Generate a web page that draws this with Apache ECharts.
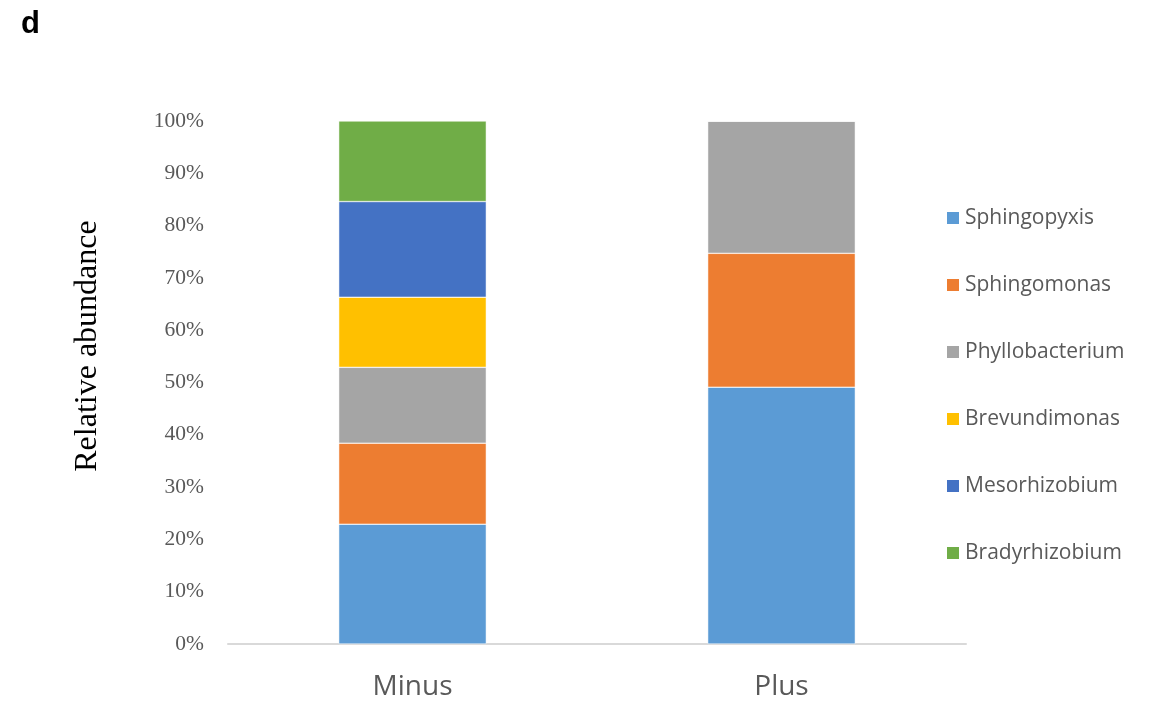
<!DOCTYPE html>
<html>
<head>
<meta charset="utf-8">
<script src="https://cdn.jsdelivr.net/npm/echarts@6/dist/echarts.min.js"></script>
<style>html,body{margin:0;padding:0;background:#fff}#c{width:1153px;height:702px}</style>
</head>
<body>
<div id="c"></div>
<script>
const categories = ['Minus', 'Plus'];
const seriesNames = ['Sphingopyxis', 'Sphingomonas', 'Phyllobacterium', 'Brevundimonas', 'Mesorhizobium', 'Bradyrhizobium'];
const sphingopyxis = [22.9, 49.1];
const sphingomonas = [15.5, 25.6];
const phyllobacterium = [14.5, 25.3];
const brevundimonas = [13.4, 0];
const mesorhizobium = [18.3, 0];
const bradyrhizobium = [15.4, 0];
const yTicks = [0, 10, 20, 30, 40, 50, 60, 70, 80, 90, 100];
const colors = ['#5B9BD5', '#ED7D31', '#A5A5A5', '#FFC000', '#4472C4', '#70AD47'];
const values = [sphingopyxis, sphingomonas, phyllobacterium, brevundimonas, mesorhizobium, bradyrhizobium];

const chart = echarts.init(document.getElementById('c'), null, {renderer: 'canvas'});
chart.setOption({
  animation: false,
  backgroundColor: '#fff',
  title: {
    text: 'd', left: 16, top: 4,
    textStyle: {fontFamily: 'Liberation Sans', fontWeight: 'bold', fontSize: 31, color: '#000'}
  },
  graphic: [{
    type: 'text', x: 88, y: 346, rotation: Math.PI / 2,
    style: {
      text: 'Relative abundance', fontFamily: 'Liberation Serif', fontSize: 32,
      fill: '#000', align: 'center', verticalAlign: 'middle'
    }
  }],
  grid: {left: 228, right: 187, top: 121, bottom: 58},
  legend: {
    orient: 'vertical', left: 940, top: 202,
    itemWidth: 14, itemHeight: 14, itemGap: 45,
    icon: 'rect',
    data: seriesNames,
    textStyle: {fontFamily: 'Open Sans', fontSize: 21, color: '#595959', lineHeight: 22}
  },
  xAxis: {
    type: 'category', data: categories,
    axisLine: {lineStyle: {color: '#D9D9D9', width: 2}},
    axisTick: {show: false},
    axisLabel: {fontFamily: 'Open Sans', fontSize: 28, color: '#595959', margin: 29}
  },
  yAxis: {
    type: 'value', min: 0, max: 100, interval: 10,
    axisLine: {show: false}, axisTick: {show: false},
    splitLine: {show: false},
    axisLabel: {
      fontFamily: 'Liberation Serif', fontSize: 21.5, color: '#595959', margin: 24,
      padding: [10, 0, 0, 0],
      formatter: v => yTicks.includes(v) ? v + '%' : ''
    }
  },
  series: seriesNames.map((n, i) => ({
    name: n, type: 'bar', stack: 'total', barWidth: '40%',
    data: values[i],
    itemStyle: {color: colors[i], borderColor: '#fff', borderWidth: 0.5}
  }))
});
</script>
</body>
</html>
